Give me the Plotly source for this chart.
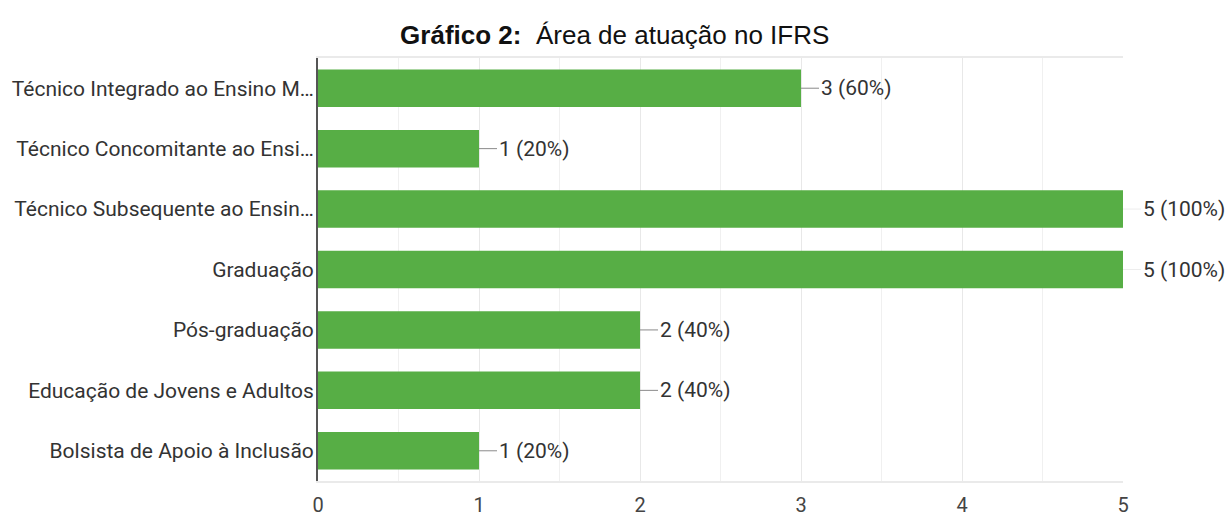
import plotly.graph_objects as go

# data
categorias = [
    "Técnico Integrado ao Ensino M…",
    "Técnico Concomitante ao Ensi…",
    "Técnico Subsequente ao Ensin…",
    "Graduação",
    "Pós-graduação",
    "Educação de Jovens e Adultos",
    "Bolsista de Apoio à Inclusão",
]
respostas = [3, 1, 5, 5, 2, 2, 1]
percentuais = [60, 20, 100, 100, 40, 40, 20]

verde = "#57AE45"
texto = "#333333"

fig = go.Figure(
    go.Bar(
        x=respostas,
        y=categorias,
        orientation="h",
        marker=dict(color=verde, line=dict(width=0)),
        width=0.62,
        hoverinfo="skip",
    )
)

# value labels with the short leader line
for cat, n, p in zip(categorias, respostas, percentuais):
    fig.add_annotation(
        x=n, y=cat, xref="x", yref="y",
        text=f"{n} ({p}%)",
        showarrow=True, arrowhead=0, arrowwidth=1,
        arrowcolor="#8A8A8A" if n < 5 else "#EDEDED",
        ax=18, ay=0, xanchor="left",
        font=dict(family="Roboto", size=21, color=texto),
        standoff=0, startstandoff=0,
    )

fig.update_layout(
    width=1227, height=518,
    margin=dict(l=318, r=104, t=58, b=37),
    paper_bgcolor="white", plot_bgcolor="white",
    title=dict(
        text="<b>Gráfico 2:</b>  Área de atuação no IFRS",
        x=0.501, xanchor="center", y=0.932, yanchor="middle",
        font=dict(family="Arial", size=26, color="#111111"),
    ),
    showlegend=False,
    font=dict(family="Roboto", color=texto),
)

fig.update_xaxes(
    range=[0, 5], dtick=1, tick0=0, automargin=False,
    showgrid=True, gridcolor="#E8E8E8", gridwidth=1,
    minor=dict(dtick=0.5, showgrid=True, gridcolor="#F0F0F0"),
    showline=True, mirror=True, linecolor="#EAEAEA", linewidth=2,
    zeroline=False,
    tickfont=dict(family="Roboto", size=20, color="#444444"),
    ticklabelstandoff=5,
)
fig.update_yaxes(
    autorange="reversed", automargin=False,
    showline=True, linecolor="#555555", linewidth=2,
    showgrid=False,
    tickfont=dict(family="Roboto", size=21, color=texto),
    ticklabelstandoff=-2,
)

# drop the default body margin so the figure sits at the page origin
fig.write_html(
    "out.html",
    config={"displayModeBar": False},
    post_script="document.body.style.margin='0';",
)
